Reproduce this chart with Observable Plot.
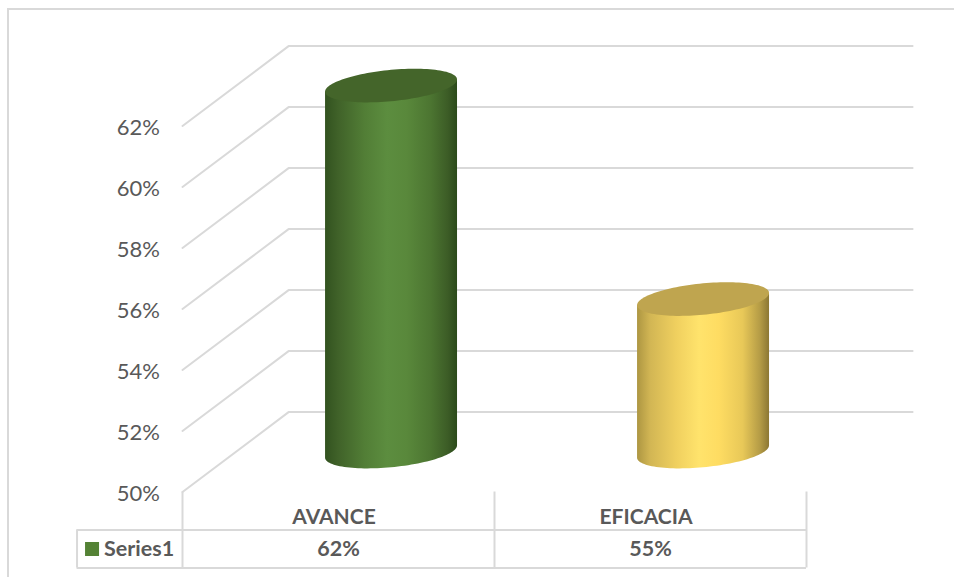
<!DOCTYPE html>
<html>
<head>
<meta charset="utf-8">
<script src="https://cdn.jsdelivr.net/npm/d3@7"></script>
<script src="https://cdn.jsdelivr.net/npm/@observablehq/plot@0.6"></script>
<style>
  html, body { margin: 0; padding: 0; background: #fff; overflow: hidden; }
  #frame { position: absolute; left: 7px; top: 8px; right: 0; bottom: 0;
           border-top: 2px solid #d9d9d9; border-left: 2px solid #d9d9d9; }
  #chart { position: absolute; left: 0; top: 0; }
  #chart svg { display: block; background: transparent; }
</style>
</head>
<body>
<div id="frame"></div>
<div id="chart"></div>
<script>
// Chart data
const categories = ["AVANCE", "EFICACIA"];
const values = [62, 55];
const seriesName = "Series1";
const axisTicks = [50, 52, 54, 56, 58, 60, 62];

// Pseudo-3D geometry, in scale units (x: categories, y: percent)
const baseValue = 50;
const depthX = 0.34, depthY = 2.62;        // front plane to back wall
const radiusX = 0.2115, radiusY = 0.515;   // cylinder cap radii
const tilt = 0.2;                          // cap tilt
const headerY = 48.754, tableBottom = 47.508, tableLeft = -0.338;

const GRID = "#d9d9d9", TEXT = "#595959";
const FONT = "Lato, Carlito, 'Open Sans', sans-serif";

const gridLines = axisTicks.flatMap(tick => [
  {tick, x: 0, y: tick},
  {tick, x: depthX, y: tick + depthY},
  {tick, x: 2 + depthX, y: tick + depthY}
]);

// Half-turn samples of a cap; lo/hi are its lower and upper arcs
const angles = d3.range(0, 61).map(i => i / 60 * Math.PI);
const arcs = (cx, cy) => angles.map(t => ({
  x: cx + radiusX * Math.cos(t),
  lo: cy + tilt * Math.cos(t) - radiusY * Math.sin(t),
  hi: cy + tilt * Math.cos(t) + radiusY * Math.sin(t),
  mid: cy + tilt * Math.cos(t)
}));

const cylinders = categories.map((name, i) => {
  const cx = i + 0.5 + depthX / 2;
  const floor = arcs(cx, baseValue + depthY / 2);
  const cap = arcs(cx, values[i] + depthY / 2);
  return {
    side: floor.map((d, j) => ({x: d.x, lo: d.lo, hi: cap[j].mid})),
    cap
  };
});

const shades = [
  {id: "greenBody", stops: [[0, "#32521f"], [0.1, "#406229"], [0.3, "#527e36"], [0.47, "#5c8d3f"], [0.62, "#59883b"], [0.8, "#4c7531"], [0.93, "#3c5c26"], [1, "#2b4a1a"]], capFill: "#44652a"},
  {id: "goldBody", stops: [[0, "#ad9642"], [0.1, "#d2b654"], [0.3, "#f0d05f"], [0.47, "#ffe36c"], [0.62, "#fedc62"], [0.8, "#e8c858"], [0.93, "#b59c46"], [1, "#8c7733"]], capFill: "#bfa54f"}
];

// Horizontal gradients that give the cylinder sides their shading
function gradients() {
  const ns = "http://www.w3.org/2000/svg";
  const defs = document.createElementNS(ns, "defs");
  for (const {id, stops} of shades) {
    const g = document.createElementNS(ns, "linearGradient");
    g.setAttribute("id", id);
    for (const [offset, color] of stops) {
      const s = document.createElementNS(ns, "stop");
      s.setAttribute("offset", offset);
      s.setAttribute("stop-color", color);
      g.appendChild(s);
    }
    defs.appendChild(g);
  }
  return defs;
}

const hRule = (y, x1, x2) => Plot.ruleY([y], {x1, x2, stroke: GRID, strokeWidth: 2});
const vRule = (x, y1, y2) => Plot.ruleX([x], {y1, y2, stroke: GRID, strokeWidth: 2});

const chart = Plot.plot({
  width: 954,
  height: 577,
  marginLeft: 182,
  marginRight: 148,
  marginTop: 125.5,
  marginBottom: 85.5,
  style: {background: "transparent", fontFamily: FONT, overflow: "visible"},
  x: {domain: [0, 2], axis: null},
  y: {domain: [50, 62], axis: null},
  marks: [
    gradients,
    Plot.line(gridLines, {x: "x", y: "y", z: "tick", stroke: GRID, strokeWidth: 2}),
    Plot.axisY({
      ticks: axisTicks,
      tickSize: 0,
      tickPadding: 22.5,
      tickFormat: d => `${d}%`,
      fontSize: 22,
      color: TEXT,
      dy: 2,
      label: null
    }),

    // Cylinders
    ...cylinders.flatMap((c, i) => [
      Plot.area(c.side, {x1: "x", y1: "lo", y2: "hi", fill: `url(#${shades[i].id})`}),
      Plot.area(c.cap, {x1: "x", y1: "lo", y2: "hi", fill: shades[i].capFill})
    ]),

    // Data table below the axis
    hRule(headerY, tableLeft, 2),
    hRule(tableBottom, tableLeft, 2),
    vRule(tableLeft, headerY, tableBottom),
    ...[0, 1, 2].map(x => vRule(x, baseValue, tableBottom)),
    Plot.text(categories, {
      x: (d, i) => i + 0.5,
      y: (headerY + baseValue) / 2,
      text: d => d,
      dx: -4.5, dy: 6,
      fontSize: 21, fontWeight: 700, fill: TEXT
    }),
    Plot.text(values, {
      x: (d, i) => i + 0.5,
      y: (headerY + tableBottom) / 2,
      text: d => `${d}%`,
      fontSize: 21.5, fontWeight: 700, fill: TEXT
    }),
    Plot.dot([seriesName], {
      x: tableLeft, y: (headerY + tableBottom) / 2,
      dx: 15, symbol: "square", r: 7.9, fill: "#548235"
    }),
    Plot.text([seriesName], {
      x: tableLeft, y: (headerY + tableBottom) / 2,
      dx: 27, text: d => d, textAnchor: "start",
      fontSize: 21.5, fontWeight: 700, fill: TEXT
    })
  ]
});

document.getElementById("chart").appendChild(chart);
</script>
</body>
</html>
